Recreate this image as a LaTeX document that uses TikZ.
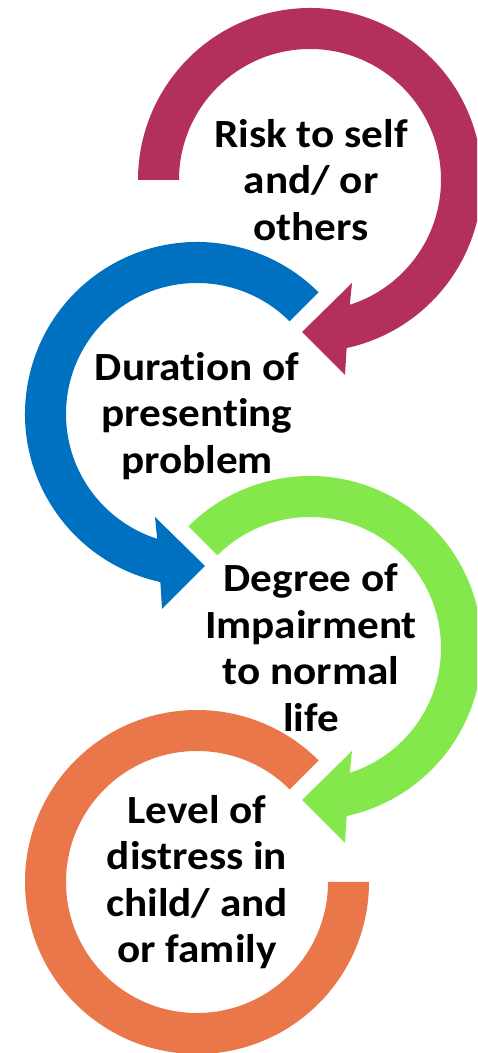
\documentclass[tikz,border=0pt]{standalone}
\usepackage{fontspec}
\setmainfont[Ligatures=NoCommon, FakeStretch=1.08]{Carlito}
\definecolor{magc}{HTML}{B4305C}
\definecolor{bluec}{HTML}{0070C0}
\definecolor{greenc}{HTML}{84E84C}
\definecolor{orangec}{HTML}{E9774A}
\tikzset{
  lbl/.style={align=center, font=\fontsize{40}{46.5}\selectfont\bfseries, text=black, inner sep=0pt},
}
\begin{document}
\begin{tikzpicture}[x=1pt,y=1pt]
\useasboundingbox (0,0) rectangle (477,1053);
\clip (0,0) rectangle (477,1053);
\fill[white] (0,0) rectangle (477,1053);
% magenta (clockwise, flat start at left)
\begin{scope}[shift={(310,873)}]
\fill[magc] (180:131) arc[start angle=180, end angle=-72.3, radius=131pt]
  -- (42,-103) -- (-8,-152) -- (35,-195) -- (-77.7:172)
  arc[start angle=-77.7, end angle=180, radius=172pt] -- cycle;
\end{scope}
% blue (counter-clockwise)
\begin{scope}[shift={(197,639)}]
\fill[bluec] (45:131) arc[start angle=45, end angle=252.3, radius=131pt]
  -- (-42,-103) -- (8,-152) -- (-35,-195) -- (257.7:172)
  arc[start angle=257.7, end angle=45, radius=172pt] -- cycle;
\end{scope}
% green (clockwise)
\begin{scope}[shift={(310,405)}]
\fill[greenc] (135:131) arc[start angle=135, end angle=-72.3, radius=131pt]
  -- (42,-103) -- (-8,-152) -- (35,-195) -- (-77.7:172)
  arc[start angle=-77.7, end angle=135, radius=172pt] -- cycle;
\end{scope}
% orange (no head)
\begin{scope}[shift={(197,171)}]
\fill[orangec] (45:131) arc[start angle=45, end angle=360, radius=131pt]
  -- (0:172) arc[start angle=360, end angle=45, radius=172pt] -- cycle;
\end{scope}
\node[lbl] (risk) at (311,873) {Risk to self\\and/ or\\others};
\node[lbl] (dur) at (197,637) {Duration of\\presenting\\problem};
\node[lbl] (deg) at (311,405) {Degree of\\Impairment\\to normal\\life};
\node[lbl] (lev) at (197,171) {Level of\\distress in\\child/ and\\or family};
\end{tikzpicture}
\end{document}
